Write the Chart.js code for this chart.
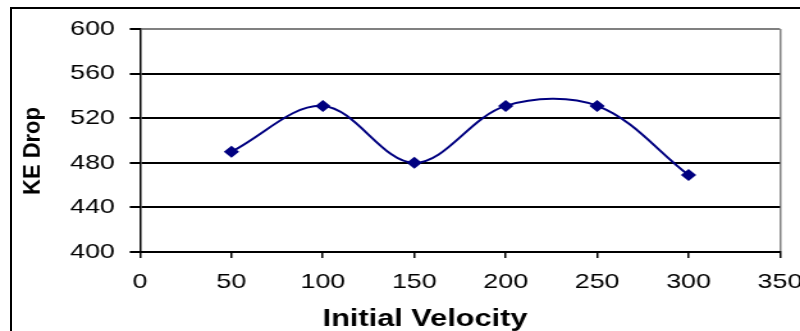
<!DOCTYPE html>
<html>
<head>
<meta charset="utf-8">
<title>KE Drop vs Initial Velocity</title>
<script src="https://cdn.jsdelivr.net/npm/chart.js@4/dist/chart.umd.min.js"></script>
<style>
  html, body {
    margin: 0;
    padding: 0;
    background: #fff;
    overflow: hidden;
    width: 800px;
    height: 331px;
  }
  .frame {
    position: absolute;
    left: 10px;
    top: 7px;
    width: 1000px;
    height: 1000px;
    border-top: 2px solid #000;
    border-left: 2px solid #000;
  }
  /* the chart is drawn narrow and stretched sideways */
  .wrap {
    position: absolute;
    left: 0;
    top: 0;
    width: 625px;
    height: 331px;
    transform: scaleX(1.28);
    transform-origin: 0 0;
  }
</style>
</head>
<body>
<div class="frame"></div>
<div class="wrap">
  <canvas id="myChart" width="625" height="331"></canvas>
</div>
<script>
// Data

const velocities = [50, 100, 150, 200, 250, 300];
const keDrop = [490, 531, 480, 531, 531, 469];

const xTicks = [0, 50, 100, 150, 200, 250, 300, 350];
const yTicks = [400, 440, 480, 520, 560, 600];

const xTitle = 'Initial Velocity';
const yTitle = 'KE Drop';

const stretch = 1.28;
const font = 'Liberation Sans, Arial, sans-serif';

// Axis titles

const axisTitles = {
  id: 'axisTitles',
  afterDraw(chart) {
    const ctx = chart.ctx;
    ctx.save();
    ctx.fillStyle = '#000';

    ctx.font = `bold 24px ${font}`;
    ctx.textAlign = 'center';
    ctx.textBaseline = 'alphabetic';
    ctx.fillText(xTitle, 425 / stretch, 326);

    ctx.font = `bold 22px ${font}`;
    ctx.translate(40 / stretch, 151);
    ctx.scale(0.8, 1);
    ctx.rotate(-Math.PI / 2);
    ctx.fillText(yTitle, 0, 0);
    ctx.restore();
  }
};

// Chart

const ctx = document.getElementById('myChart').getContext('2d');
const myChart = new Chart(ctx, {
  type: 'scatter',
  data: {
    datasets: [{
      data: velocities.map((v, i) => ({ x: v, y: keDrop[i] })),
      showLine: true,
      tension: 0.35,
      borderColor: '#000080',
      borderWidth: 2,
      backgroundColor: '#000080',
      pointBackgroundColor: '#000080',
      pointBorderColor: '#000080',
      pointStyle: 'rectRot',
      pointRadius: 6,
      pointBorderWidth: 0,
    }],
  },
  options: {
    responsive: false,
    animation: false,
    devicePixelRatio: 1,
    layout: {
      padding: { top: 29, right: 625 - 780 / stretch, bottom: 0, left: 0 },
    },
    plugins: {
      legend: { display: false },
      tooltip: { enabled: false },
    },
    scales: {
      x: {
        type: 'linear',
        min: xTicks[0],
        max: xTicks[xTicks.length - 1],
        afterBuildTicks: (scale) => {
          scale.ticks = xTicks.map(v => ({ value: v }));
        },
        afterFit: (scale) => {
          scale.height = 79;
          scale.paddingLeft = 0;
          scale.paddingRight = 0;
        },
        ticks: {
          color: '#000',
          font: { family: font, size: 21 },
          padding: 12,
          maxRotation: 0,
          autoSkip: false,
        },
        grid: {
          color: (c) => c.tick && c.tick.value === 350 ? '#808080' : 'rgba(0,0,0,0)',
          tickColor: '#000',
          tickLength: 6,
          lineWidth: 1.5,
        },
        border: { color: '#000', width: 2 },
      },
      y: {
        min: yTicks[0],
        max: yTicks[yTicks.length - 1],
        afterBuildTicks: (scale) => {
          scale.ticks = yTicks.map(v => ({ value: v }));
        },
        afterFit: (scale) => {
          scale.width = 140 / stretch;
          scale.paddingTop = 0;
          scale.paddingBottom = 0;
        },
        ticks: {
          color: '#000',
          font: { family: font, size: 21 },
          padding: 11.6,
        },
        grid: {
          color: (c) => c.tick && c.tick.value === 600 ? '#808080' : '#000',
          tickColor: '#000',
          tickLength: 8,
          lineWidth: 2,
        },
        border: { color: '#000', width: 1.5 },
      },
    },
  },
  plugins: [axisTitles],
});
</script>
</body>
</html>
